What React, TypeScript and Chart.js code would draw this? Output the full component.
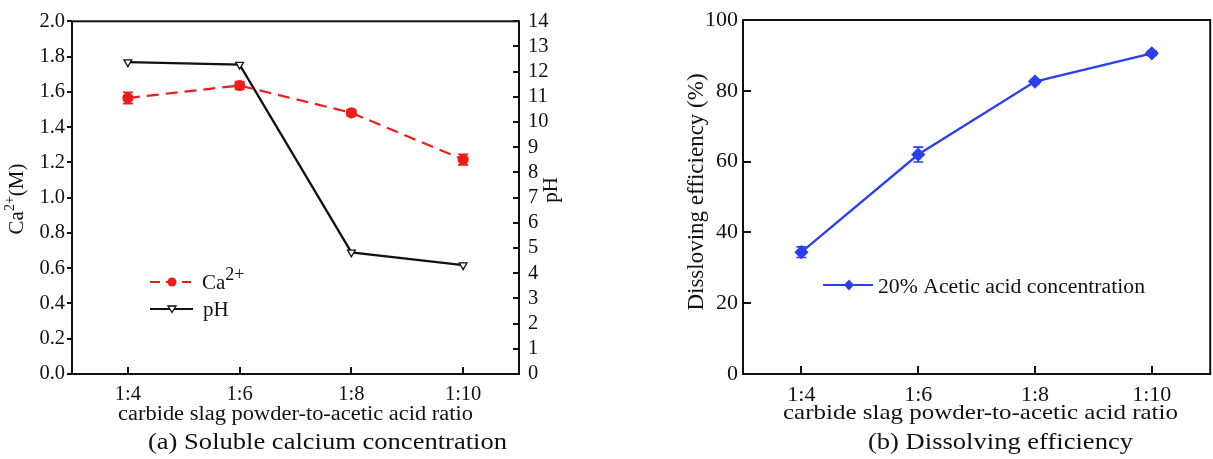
import React, { useEffect, useRef } from 'react';
import { Chart, registerables } from 'chart.js';

Chart.register(...registerables);

// ---------- data ----------
const ratioLabels = ['1:4', '1:6', '1:8', '1:10'];
const calciumValues = [1.565, 1.636, 1.481, 1.216];
const calciumErrors = [0.032, 0.022, 0.018, 0.03];
const phValues = [12.38, 12.28, 4.83, 4.32];
const efficiencyValues = [34.4, 62.0, 82.6, 90.6];
const efficiencyErrors = [1.5, 2.1, 0.6, 0.6];

const xTitle = 'carbide slag powder-to-acetic acid ratio';
const captionA = '(a) Soluble calcium concentration';
const captionB = '(b) Dissolving efficiency';
const effTitle = 'Dissloving efficiency (%)';
const effLegend = '20% Acetic acid concentration';

const FONT = '"Liberation Serif", "Times New Roman", Times, serif';
const RED = '#ee1c1c';
const BLUE = '#2b3ff0';
const INK = '#111';

type Seg = { t: string; size: number; dy?: number };

function drawText(
  ctx: CanvasRenderingContext2D,
  text: string,
  x: number,
  y: number,
  size: number,
  opts: { align?: CanvasTextAlign; width?: number; rot?: number; color?: string } = {}
) {
  const { align = 'left', width, rot = 0, color = INK } = opts;
  ctx.save();
  ctx.font = `${size}px ${FONT}`;
  const w = ctx.measureText(text).width;
  const sx = width ? width / w : 1;
  ctx.translate(x, y);
  if (rot) ctx.rotate(rot);
  ctx.scale(sx, 1);
  ctx.textAlign = align;
  ctx.textBaseline = 'alphabetic';
  ctx.fillStyle = color;
  ctx.fillText(text, 0, 0);
  ctx.restore();
}

function drawRich(
  ctx: CanvasRenderingContext2D,
  segs: Seg[],
  x: number,
  y: number,
  rot: number,
  align: 'left' | 'center'
) {
  ctx.save();
  ctx.translate(x, y);
  if (rot) ctx.rotate(rot);
  let total = 0;
  const widths = segs.map((s) => {
    ctx.font = `${s.size}px ${FONT}`;
    const w = ctx.measureText(s.t).width;
    total += w;
    return w;
  });
  let cx = align === 'center' ? -total / 2 : 0;
  ctx.fillStyle = INK;
  ctx.textAlign = 'left';
  ctx.textBaseline = 'alphabetic';
  segs.forEach((s, i) => {
    ctx.font = `${s.size}px ${FONT}`;
    ctx.fillText(s.t, cx, s.dy || 0);
    cx += widths[i];
  });
  ctx.restore();
}

function errorBars(chart: any, values: number[], errors: number[], axisId: string, color: string) {
  const ctx = chart.ctx as CanvasRenderingContext2D;
  const xs = chart.scales.x;
  const ys = chart.scales[axisId];
  ctx.save();
  ctx.strokeStyle = color;
  ctx.lineWidth = 1.6;
  values.forEach((v, i) => {
    const px = xs.getPixelForValue(i);
    const top = ys.getPixelForValue(v + errors[i]);
    const bot = ys.getPixelForValue(v - errors[i]);
    ctx.beginPath();
    ctx.moveTo(px, top);
    ctx.lineTo(px, bot);
    ctx.moveTo(px - 5, top);
    ctx.lineTo(px + 5, top);
    ctx.moveTo(px - 5, bot);
    ctx.lineTo(px + 5, bot);
    ctx.stroke();
  });
  ctx.restore();
}

function frameAndTicks(chart: any, opts: { yOut: number; y1In?: number; xIn: number; yIn?: number }) {
  const ctx = chart.ctx as CanvasRenderingContext2D;
  const { left, right, top, bottom } = chart.chartArea;
  ctx.save();
  ctx.strokeStyle = '#111';
  ctx.lineWidth = 2;
  ctx.strokeRect(left, top, right - left, bottom - top);
  ctx.beginPath();
  const ys = chart.scales.y;
  ys.ticks.forEach((t: any) => {
    const py = Math.round(ys.getPixelForValue(t.value));
    if (opts.yOut) {
      ctx.moveTo(left - opts.yOut, py);
      ctx.lineTo(left, py);
    }
    if (opts.yIn) {
      ctx.moveTo(left, py);
      ctx.lineTo(left + opts.yIn, py);
    }
  });
  if (opts.y1In && chart.scales.y1) {
    const y1 = chart.scales.y1;
    y1.ticks.forEach((t: any) => {
      const py = Math.round(y1.getPixelForValue(t.value));
      ctx.moveTo(right - opts.y1In!, py);
      ctx.lineTo(right, py);
    });
  }
  const xs = chart.scales.x;
  ratioLabels.forEach((_, i) => {
    const px = Math.round(xs.getPixelForValue(i));
    ctx.moveTo(px, bottom);
    ctx.lineTo(px, bottom - opts.xIn);
  });
  ctx.stroke();
  ctx.restore();
}

const calciumPlugin = {
  id: 'calciumDecor',
  afterDatasetsDraw(chart: any) {
    errorBars(chart, calciumValues, calciumErrors, 'y', RED);
  },
  afterDraw(chart: any) {
    const ctx = chart.ctx as CanvasRenderingContext2D;
    frameAndTicks(chart, { yOut: 5, y1In: 6, xIn: 7 });
    // legend
    ctx.save();
    ctx.strokeStyle = RED;
    ctx.lineWidth = 2.2;
    ctx.setLineDash([10, 6]);
    ctx.beginPath();
    ctx.moveTo(150, 282);
    ctx.lineTo(191, 282);
    ctx.stroke();
    ctx.setLineDash([]);
    ctx.fillStyle = RED;
    ctx.beginPath();
    ctx.arc(172, 282, 4.5, 0, Math.PI * 2);
    ctx.fill();
    ctx.strokeStyle = '#111';
    ctx.lineWidth = 2.2;
    ctx.beginPath();
    ctx.moveTo(150, 309);
    ctx.lineTo(193, 309);
    ctx.stroke();
    ctx.fillStyle = '#fff';
    ctx.lineWidth = 1.3;
    ctx.beginPath();
    ctx.moveTo(168, 306);
    ctx.lineTo(176, 306);
    ctx.lineTo(172, 312.5);
    ctx.closePath();
    ctx.fill();
    ctx.stroke();
    ctx.restore();
    drawRich(ctx, [
      { t: 'Ca', size: 21 },
      { t: '2+', size: 18, dy: -9 },
    ], 202, 289, 0, 'left');
    drawText(ctx, 'pH', 203, 316, 21);
    // axis titles
    drawRich(ctx, [
      { t: 'Ca', size: 21 },
      { t: '2+', size: 14, dy: -9 },
      { t: '(M)', size: 21 },
    ], 23, 199, -Math.PI / 2, 'center');
    drawText(ctx, 'pH', 557, 190, 21, { align: 'center', rot: -Math.PI / 2 });
    drawText(ctx, xTitle, 295.5, 420, 20.5, { align: 'center', width: 355 });
    drawText(ctx, captionA, 327.5, 449, 23.5, { align: 'center', width: 359 });
  },
};

const effPlugin = {
  id: 'effDecor',
  afterDatasetsDraw(chart: any) {
    errorBars(chart, efficiencyValues, efficiencyErrors, 'y', BLUE);
  },
  afterDraw(chart: any) {
    const ctx = chart.ctx as CanvasRenderingContext2D;
    frameAndTicks(chart, { yOut: 0, yIn: 8, xIn: 8 });
    const ox = 600;
    ctx.save();
    ctx.strokeStyle = BLUE;
    ctx.fillStyle = BLUE;
    ctx.lineWidth = 2.2;
    ctx.beginPath();
    ctx.moveTo(823 - ox, 285);
    ctx.lineTo(873 - ox, 285);
    ctx.stroke();
    const dx = 849 - ox;
    ctx.beginPath();
    ctx.moveTo(dx, 279.5);
    ctx.lineTo(dx + 5, 285);
    ctx.lineTo(dx, 290.5);
    ctx.lineTo(dx - 5, 285);
    ctx.closePath();
    ctx.fill();
    ctx.restore();
    drawText(ctx, effLegend, 878 - ox, 293, 20.5, { width: 267 });
    drawText(ctx, effTitle, 703 - ox, 192, 23, { align: 'center', rot: -Math.PI / 2 });
    drawText(ctx, xTitle, 980.5 - ox, 419, 22, { align: 'center', width: 395 });
    drawText(ctx, captionB, 1000.5 - ox, 449, 23.5, { align: 'center', width: 265 });
  },
};

const tickFont = (size: number) => ({ family: FONT, size });

export default function App() {
  const ref1 = useRef<HTMLCanvasElement>(null);
  const ref2 = useRef<HTMLCanvasElement>(null);

  useEffect(() => {
    const c1 = new Chart(ref1.current!, {
      type: 'line',
      data: {
        labels: ratioLabels,
        datasets: [
          {
            label: 'Ca2+',
            data: calciumValues,
            yAxisID: 'y',
            borderColor: RED,
            backgroundColor: RED,
            borderWidth: 2.2,
            borderDash: [12, 7],
            pointStyle: 'circle',
            pointRadius: 4.5,
            pointBackgroundColor: RED,
            pointBorderColor: RED,
            tension: 0,
          },
          {
            label: 'pH',
            data: phValues,
            yAxisID: 'y1',
            borderColor: '#111',
            backgroundColor: '#fff',
            borderWidth: 2.3,
            pointStyle: 'triangle',
            rotation: 180,
            pointRadius: 4.5,
            pointBackgroundColor: '#fff',
            pointBorderColor: '#111',
            pointBorderWidth: 1.3,
            tension: 0,
          },
        ],
      },
      options: {
        responsive: false,
        animation: false,
        devicePixelRatio: 1,
        layout: { padding: { top: 20, left: 0, right: 0, bottom: 0 } },
        plugins: { legend: { display: false }, tooltip: { enabled: false } },
        scales: {
          x: {
            type: 'category',
            offset: true,
            grid: { display: false, drawTicks: false },
            border: { display: false },
            ticks: { font: tickFont(20.5), color: INK, padding: 8, maxRotation: 0, autoSkip: false },
            afterFit: (s: any) => {
              s.height = 85;
            },
          },
          y: {
            position: 'left',
            min: 0,
            max: 2,
            grid: { display: false, drawTicks: false },
            border: { display: false },
            ticks: {
              stepSize: 0.2,
              maxTicksLimit: 20,
              autoSkip: false,
              font: tickFont(20.5),
              color: INK,
              padding: 7,
              callback: (v: any) => Number(v).toFixed(1),
            },
            afterFit: (s: any) => {
              s.width = 72;
            },
          },
          y1: {
            position: 'right',
            min: 0,
            max: 14,
            grid: { display: false, drawTicks: false },
            border: { display: false },
            ticks: {
              stepSize: 1,
              maxTicksLimit: 20,
              autoSkip: false,
              font: tickFont(20.5),
              color: INK,
              padding: 9,
            },
            afterFit: (s: any) => {
              s.width = 81;
            },
          },
        },
      },
      plugins: [calciumPlugin],
    } as any);

    const c2 = new Chart(ref2.current!, {
      type: 'line',
      data: {
        labels: ratioLabels,
        datasets: [
          {
            label: effLegend,
            data: efficiencyValues,
            borderColor: BLUE,
            backgroundColor: BLUE,
            borderWidth: 2.3,
            pointStyle: 'rectRot',
            pointRadius: 5.5,
            pointBackgroundColor: BLUE,
            pointBorderColor: BLUE,
            tension: 0,
          },
        ],
      },
      options: {
        responsive: false,
        animation: false,
        devicePixelRatio: 1,
        layout: { padding: { top: 20, left: 0, right: 0, bottom: 0 } },
        plugins: { legend: { display: false }, tooltip: { enabled: false } },
        scales: {
          x: {
            type: 'category',
            offset: true,
            grid: { display: false, drawTicks: false },
            border: { display: false },
            ticks: { font: tickFont(22), color: INK, padding: 8, maxRotation: 0, autoSkip: false },
            afterFit: (s: any) => {
              s.height = 85;
            },
          },
          y: {
            position: 'left',
            min: 0,
            max: 100,
            grid: { display: false, drawTicks: false },
            border: { display: false },
            ticks: { stepSize: 20, font: tickFont(22), color: INK, padding: 5 },
            afterFit: (s: any) => {
              s.width = 143;
            },
          },
        },
      },
      plugins: [effPlugin],
    } as any);

    return () => {
      c1.destroy();
      c2.destroy();
    };
  }, []);

  return (
    <div
      style={{
        position: 'fixed',
        left: 0,
        top: 0,
        width: 1213,
        height: 459,
        overflow: 'hidden',
        background: '#fff',
      }}
    >
      <canvas
        ref={ref1}
        width={600}
        height={459}
        style={{ position: 'absolute', left: 0, top: 0, width: 600, height: 459 }}
      />
      <canvas
        ref={ref2}
        width={618}
        height={459}
        style={{ position: 'absolute', left: 600, top: 0, width: 618, height: 459 }}
      />
    </div>
  );
}
